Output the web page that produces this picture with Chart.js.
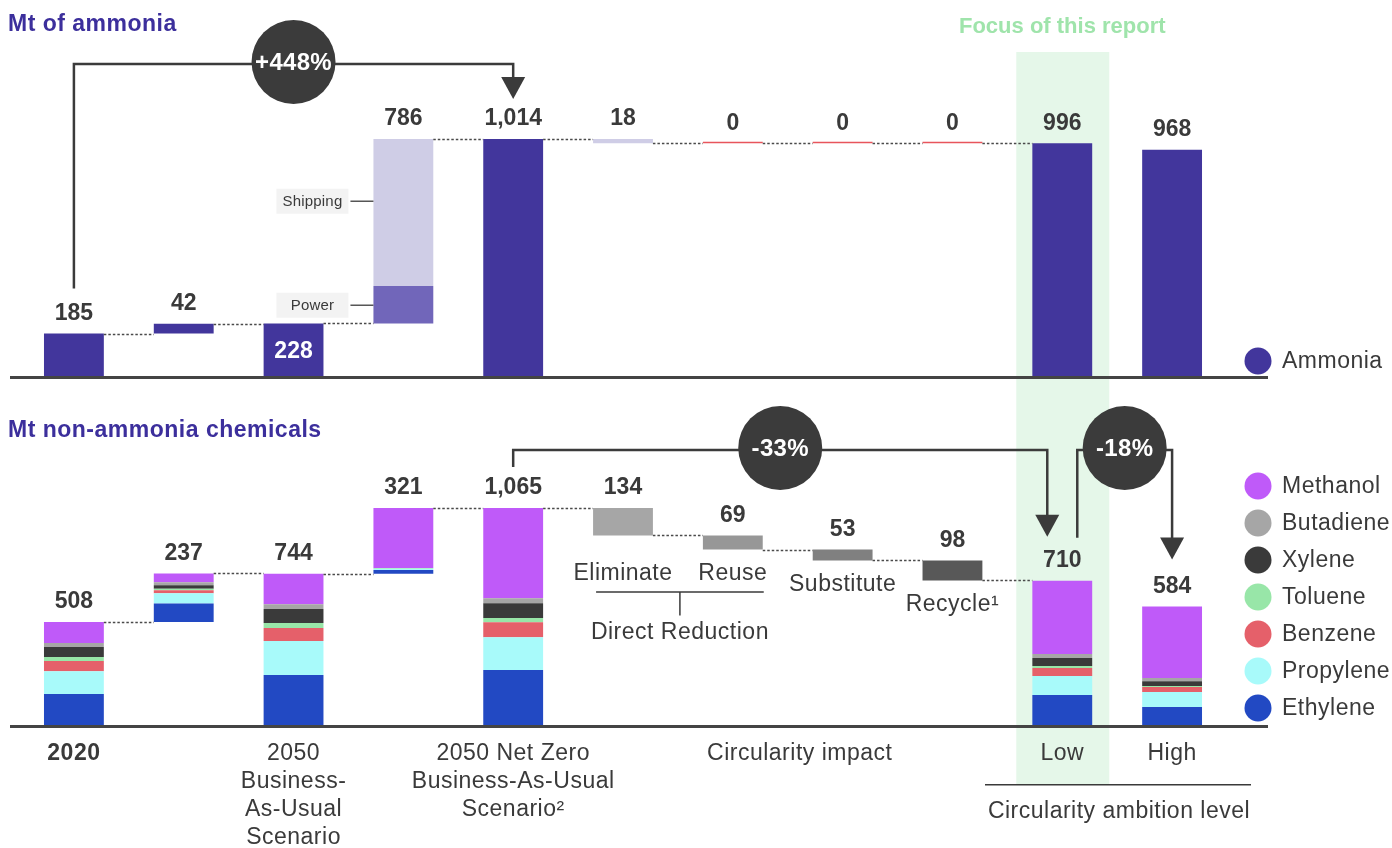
<!DOCTYPE html>
<html>
<head>
<meta charset="utf-8">
<script src="https://cdn.jsdelivr.net/npm/chart.js@4.4.1/dist/chart.umd.min.js"></script>
<style>
  html, body { margin: 0; padding: 0; background: #fff; }
  #wrap { position: relative; width: 1392px; height: 848px; overflow: hidden; }
  #topChart { position: absolute; left: 0; top: 0; }
  #bottomChart { position: absolute; left: 0; top: 400px; }
</style>
</head>
<body>
<div id="wrap">
  <canvas id="topChart" width="1392" height="400"></canvas>
  <canvas id="bottomChart" width="1392" height="448"></canvas>
</div>
<script>
// カテゴリ（下段ラベルの行）
const categories = [
    ['2020'], [''], ['2050', 'Business-', 'As-Usual', 'Scenario'], [''],
    ['2050 Net Zero', 'Business-As-Usual', 'Scenario²'],
    ['Eliminate'], ['Reuse'], ['Substitute'], ['Recycle¹'], ['Low'], ['High']
];
// total = 0から積む柱, step = 前の柱から増減
const columnType = ['total', 'step', 'total', 'step', 'total', 'step', 'step', 'step', 'step', 'total', 'total'];

// アンモニア (Mt)
const ammonia         = [185, 42, 228, null, 1014, -18, 0, 0, 0, 996, 968];
const ammoniaPower    = [null, null, null, 160, null, null, null, null, null, null, null];
const ammoniaShipping = [null, null, null, 626, null, null, null, null, null, null, null];

// アンモニア以外の化学品 (Mt)
const methanol  = [102, 43, 149, 293, 441, null, null, null, null, 358, 350];
const butadiene = [20, 15, 24, 0, 24, null, null, null, null, 20, 15];
const xylene    = [49, 16, 68, 0, 73, null, null, null, null, 39, 24];
const toluene   = [20, 8, 24, 4, 20, null, null, null, null, 10, 5];
const benzene   = [49, 15, 64, 0, 73, null, null, null, null, 39, 24];
const propylene = [112, 49, 166, 6, 161, null, null, null, null, 93, 73];
const ethylene  = [156, 91, 249, 18, 273, null, null, null, null, 151, 93];
const circularity = [null, null, null, null, null, -134, -69, -53, -98, null, null];

const FONT = '"Liberation Sans", Arial, sans-serif';
const TEXT = '#3a3a3a';
const DARK = '#3b3b3b';
const circularityColors = [null, null, null, null, null, '#a6a6a6', '#979797', '#808080', '#585858', null, null];

// ウォーターフォールの範囲を計算
function buildWaterfall(seriesList) {
    const n = categories.length;
    const ranges = seriesList.map(() => new Array(n).fill(null));
    const levels = [], tops = [], sums = [];
    let level = 0;
    for (let i = 0; i < n; i++) {
        const base = columnType[i] === 'total' ? 0 : level;
        let cur = base, top = base;
        seriesList.forEach((s, k) => {
            const v = s[i];
            if (v === null || v === undefined) return;
            ranges[k][i] = [cur, cur + v];
            cur += v;
            top = Math.max(top, cur);
        });
        sums.push(cur - base);
        level = cur;
        levels.push(level);
        tops.push(top);
    }
    return { ranges, levels, tops, sums };
}

const topWF = buildWaterfall([ammonia, ammoniaPower, ammoniaShipping]);
const chemSeries = [ethylene, propylene, benzene, toluene, xylene, butadiene, methanol, circularity];
const botWF = buildWaterfall(chemSeries);

function fmt(v) { return Math.round(v).toLocaleString('en-US'); }

// 文字の設定（字間を少し広げる）
function setFont(ctx, font, spacing) {
    ctx.font = font;
    if ('letterSpacing' in ctx) ctx.letterSpacing = (spacing || 0) + 'px';
}

function drawBand(chart, y1, y2) {
    const { ctx, scales: { x } } = chart;
    const cx = x.getPixelForValue(9);
    ctx.save();
    ctx.fillStyle = '#e5f7e9';
    ctx.fillRect(cx - 46, y1, 93, y2 - y1);
    ctx.restore();
}

function drawBaseline(chart) {
    const { ctx, scales: { y } } = chart;
    const y0 = y.getPixelForValue(0);
    ctx.save();
    ctx.fillStyle = '#444';
    ctx.fillRect(10, y0 - 1, 1258, 3);
    ctx.restore();
}

function halfBar(chart) {
    return chart.scales.x.width / categories.length * 0.545 / 2;
}

function drawConnectors(chart, levels) {
    const { ctx, scales: { x, y } } = chart;
    const hw = halfBar(chart);
    ctx.save();
    ctx.strokeStyle = '#4a4a4a';
    ctx.lineWidth = 1.3;
    ctx.setLineDash([2.5, 2]);
    for (let i = 0; i < 9; i++) {
        const yy = Math.round(y.getPixelForValue(levels[i])) + 0.5;
        ctx.beginPath();
        ctx.moveTo(x.getPixelForValue(i) + hw, yy);
        ctx.lineTo(x.getPixelForValue(i + 1) - hw, yy);
        ctx.stroke();
    }
    ctx.restore();
}

function drawValueLabels(chart, wf, skip) {
    const { ctx, scales: { x, y } } = chart;
    ctx.save();
    setFont(ctx, `bold 23px ${FONT}`, 0);
    ctx.fillStyle = TEXT;
    ctx.textAlign = 'center';
    ctx.textBaseline = 'middle';
    for (let i = 0; i < categories.length; i++) {
        if (skip && skip.includes(i)) continue;
        const v = columnType[i] === 'total' ? wf.levels[i] : Math.abs(wf.sums[i]);
        ctx.fillText(fmt(v), x.getPixelForValue(i), y.getPixelForValue(wf.tops[i]) - 20);
    }
    ctx.restore();
}

function drawBracket(ctx, xa, ya, xb, yb, yLine, text) {
    ctx.save();
    ctx.strokeStyle = DARK;
    ctx.fillStyle = DARK;
    ctx.lineWidth = 2.5;
    ctx.beginPath();
    ctx.moveTo(xa, ya);
    ctx.lineTo(xa, yLine);
    ctx.lineTo(xb, yLine);
    ctx.lineTo(xb, yb - 20);
    ctx.stroke();
    ctx.beginPath();
    ctx.moveTo(xb - 12, yb - 22);
    ctx.lineTo(xb + 12, yb - 22);
    ctx.lineTo(xb, yb);
    ctx.closePath();
    ctx.fill();
    const cx = (xa + xb) / 2;
    ctx.beginPath();
    ctx.arc(cx, yLine - 2, 42, 0, Math.PI * 2);
    ctx.fill();
    ctx.fillStyle = '#fff';
    setFont(ctx, `bold 24px ${FONT}`, 0.3);
    ctx.textAlign = 'center';
    ctx.textBaseline = 'middle';
    ctx.fillText(text, cx, yLine - 1);
    ctx.restore();
}

function pct(a, b) {
    const p = Math.round((b / a - 1) * 100);
    return (p > 0 ? '+' : '') + p + '%';
}

function drawLegend(ctx, items, x0, y0, step) {
    ctx.save();
    setFont(ctx, `23px ${FONT}`, 0.5);
    ctx.textAlign = 'left';
    ctx.textBaseline = 'middle';
    items.forEach((it, k) => {
        const yy = y0 + k * step;
        ctx.fillStyle = it.color;
        ctx.beginPath();
        ctx.arc(x0, yy, 13.5, 0, Math.PI * 2);
        ctx.fill();
        ctx.fillStyle = TEXT;
        ctx.fillText(it.label, x0 + 24, yy + 1);
    });
    ctx.restore();
}

function drawTitle(ctx, text, x0, y0, color) {
    ctx.save();
    setFont(ctx, `bold 23px ${FONT}`, 0.5);
    ctx.fillStyle = color;
    ctx.textAlign = 'left';
    ctx.textBaseline = 'middle';
    ctx.fillText(text, x0, y0);
    ctx.restore();
}

// 上段の装飾
const topDecor = {
    id: 'topDecor',
    beforeDatasetsDraw(chart) {
        drawBand(chart, 52, 400);
    },
    afterDatasetsDraw(chart) {
        const { ctx, scales: { x, y } } = chart;
        drawBaseline(chart);
        drawConnectors(chart, topWF.levels);
        drawValueLabels(chart, topWF, [2]);

        // 228 はバーの中に白で
        ctx.save();
        setFont(ctx, `bold 23px ${FONT}`, 0);
        ctx.fillStyle = '#fff';
        ctx.textAlign = 'center';
        ctx.textBaseline = 'middle';
        ctx.fillText(fmt(topWF.levels[2]), x.getPixelForValue(2), y.getPixelForValue(topWF.levels[2] / 2) + 1);
        ctx.restore();

        // Shipping / Power の注記
        const hw = halfBar(chart);
        const bx = x.getPixelForValue(3) - hw;
        const pr = topWF.ranges[1][3], sr = topWF.ranges[2][3];
        [['Shipping', sr[0] + (sr[1] - sr[0]) * 0.58], ['Power', (pr[0] + pr[1]) / 2]].forEach(([t, v]) => {
            const yy = y.getPixelForValue(v);
            ctx.save();
            ctx.fillStyle = '#f3f3f3';
            ctx.fillRect(bx - 97, yy - 12, 72, 25);
            ctx.strokeStyle = DARK;
            ctx.lineWidth = 1.3;
            ctx.beginPath();
            ctx.moveTo(bx - 23, yy + 0.5);
            ctx.lineTo(bx, yy + 0.5);
            ctx.stroke();
            ctx.fillStyle = TEXT;
            setFont(ctx, `15px ${FONT}`, 0.2);
            ctx.textAlign = 'center';
            ctx.textBaseline = 'middle';
            ctx.fillText(t, bx - 61, yy + 1);
            ctx.restore();
        });

        // +448% の矢印
        const a = topWF.levels[0], b = topWF.levels[4];
        drawBracket(ctx, x.getPixelForValue(0), y.getPixelForValue(topWF.tops[0]) - 45,
            x.getPixelForValue(4), y.getPixelForValue(topWF.tops[4]) - 40, 64, pct(a, b));

        drawTitle(ctx, 'Mt of ammonia', 8, 25, '#3c2f9c');
        ctx.save();
        setFont(ctx, `bold 22px ${FONT}`, 0);
        ctx.fillStyle = '#9fe4ab';
        ctx.textAlign = 'center';
        ctx.textBaseline = 'middle';
        ctx.fillText('Focus of this report', x.getPixelForValue(9), 27);
        ctx.restore();

        drawLegend(ctx, [{ label: chart.data.datasets[0].label, color: '#42369c' }], 1258, 361, 37);
    }
};

// 下段の装飾
const bottomDecor = {
    id: 'bottomDecor',
    beforeDatasetsDraw(chart) {
        drawBand(chart, 0, 385);
    },
    afterDatasetsDraw(chart) {
        const { ctx, scales: { x, y } } = chart;
        drawBaseline(chart);
        drawConnectors(chart, botWF.levels);
        drawValueLabels(chart, botWF);

        const y0 = y.getPixelForValue(0);
        const hw = halfBar(chart);

        // 削減ステップの名前
        const circ = botWF.ranges[7];
        const bottomOf = i => y.getPixelForValue(Math.min(circ[i][0], circ[i][1]));
        const yDirect = Math.max(bottomOf(5), bottomOf(6)) + 24;
        ctx.save();
        setFont(ctx, `23px ${FONT}`, 0.5);
        ctx.fillStyle = TEXT;
        ctx.textAlign = 'center';
        ctx.textBaseline = 'middle';
        for (let i = 5; i <= 8; i++) {
            const yy = i <= 6 ? yDirect : bottomOf(i) + 24;
            ctx.fillText(categories[i][0], x.getPixelForValue(i), yy);
        }
        // Direct Reduction の括弧
        const l = x.getPixelForValue(5) - hw + 3, r = x.getPixelForValue(6) + hw + 1;
        const mid = (l + r) / 2;
        ctx.strokeStyle = DARK;
        ctx.lineWidth = 1.5;
        ctx.beginPath();
        ctx.moveTo(l, yDirect + 18.5);
        ctx.lineTo(r, yDirect + 18.5);
        ctx.moveTo(mid, yDirect + 18.5);
        ctx.lineTo(mid, yDirect + 42);
        ctx.stroke();
        ctx.fillText('Direct Reduction', mid, yDirect + 59);

        // 下の軸ラベル
        [0, 2, 4, 9, 10].forEach(i => {
            setFont(ctx, (i === 0 ? 'bold ' : '') + `23px ${FONT}`, 0.5);
            categories[i].forEach((t, k) => ctx.fillText(t, x.getPixelForValue(i), y0 + 28 + k * 28));
        });
        setFont(ctx, `23px ${FONT}`, 0.5);
        ctx.fillText('Circularity impact', (x.getPixelForValue(6) + x.getPixelForValue(7)) / 2 + 12, y0 + 28);
        ctx.fillRect(985, y0 + 58, 266, 1.5);
        ctx.fillText('Circularity ambition level', 1119, y0 + 86);
        ctx.restore();

        // -33% と -18% の矢印
        const nz = botWF.levels[4], low = botWF.levels[9], high = botWF.levels[10];
        drawBracket(ctx, x.getPixelForValue(4), y.getPixelForValue(botWF.tops[4]) - 41,
            x.getPixelForValue(9) - 15, y.getPixelForValue(botWF.tops[9]) - 44, 50, pct(nz, low));
        drawBracket(ctx, x.getPixelForValue(9) + 15, y.getPixelForValue(botWF.tops[9]) - 43,
            x.getPixelForValue(10), y.getPixelForValue(botWF.tops[10]) - 47, 50, pct(low, high));

        drawTitle(ctx, 'Mt non-ammonia chemicals', 8, 31, '#3c2f9c');

        const items = chart.data.datasets.slice(0, 7).reverse().map(d => ({ label: d.label, color: d.backgroundColor }));
        drawLegend(ctx, items, 1258, 86, 37);
    }
};

const commonScales = (max) => ({
    x: { display: false },
    y: { display: false, min: 0, max: max }
});

// 上段チャート
new Chart(document.getElementById('topChart'), {
    type: 'bar',
    data: {
        labels: categories.map(c => c.join(' ')),
        datasets: [
            {
                label: 'Ammonia',
                data: topWF.ranges[0],
                backgroundColor: (c) => {
                    const v = ammonia[c.dataIndex];
                    if (columnType[c.dataIndex] === 'step' && v < 0) return '#cfcde6';
                    if (columnType[c.dataIndex] === 'step' && v === 0) return '#e8555c';
                    return '#42369c';
                },
                minBarLength: 1.5
            },
            { label: 'Power', data: topWF.ranges[1], backgroundColor: '#7166ba' },
            { label: 'Shipping', data: topWF.ranges[2], backgroundColor: '#cfcde6' }
        ]
    },
    options: {
        responsive: false,
        animation: false,
        layout: { padding: { left: 19, right: 165, top: 48.4, bottom: 23 } },
        datasets: { bar: { grouped: false, barPercentage: 0.545, categoryPercentage: 1.0 } },
        scales: commonScales(1400),
        plugins: { legend: { display: false }, tooltip: { enabled: false } }
    },
    plugins: [topDecor]
});

// 下段チャート
const chemNames = ['Ethylene', 'Propylene', 'Benzene', 'Toluene', 'Xylene', 'Butadiene', 'Methanol'];
const chemColors = ['#2249c3', '#a8fafa', '#e5606a', '#98e6a8', '#3a3a3a', '#a6a6a6', '#bf5af9'];

new Chart(document.getElementById('bottomChart'), {
    type: 'bar',
    data: {
        labels: categories.map(c => c.join(' ')),
        datasets: chemNames.map((name, k) => ({
            label: name,
            data: botWF.ranges[k],
            backgroundColor: chemColors[k]
        })).concat([{
            label: 'Circularity impact',
            data: botWF.ranges[7],
            backgroundColor: (c) => circularityColors[c.dataIndex] || '#999'
        }])
    },
    options: {
        responsive: false,
        animation: false,
        layout: { padding: { left: 19, right: 165, top: 8.7, bottom: 122 } },
        datasets: { bar: { grouped: false, barPercentage: 0.545, categoryPercentage: 1.0 } },
        scales: commonScales(1550),
        plugins: { legend: { display: false }, tooltip: { enabled: false } }
    },
    plugins: [bottomDecor]
});
</script>
</body>
</html>
